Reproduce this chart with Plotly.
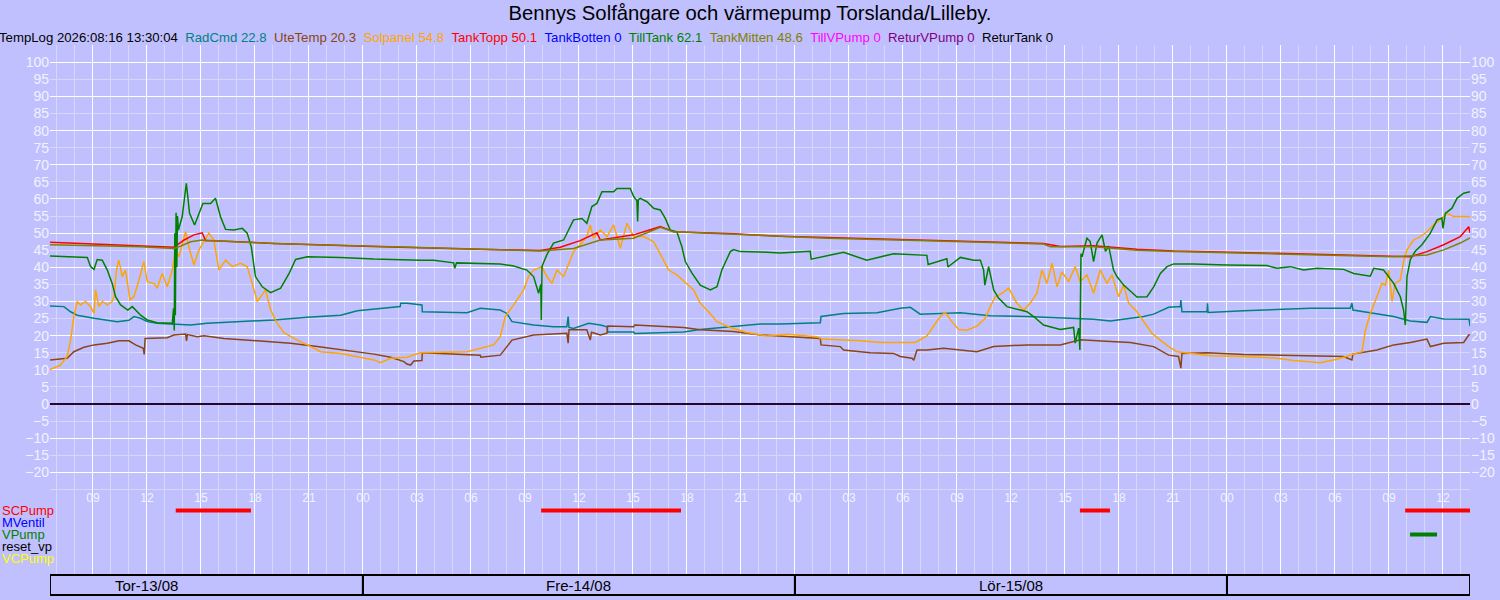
import pandas as pd
import plotly.graph_objects as go

title_text = "Bennys Solfångare och värmepump Torslanda/Lilleby."
log_stamp = "TempLog 2026:08:16 13:30:04"
day0 = pd.Timestamp("2026-08-13 00:00:00")
t_start = pd.Timestamp("2026-08-13 06:37:00")
t_end = pd.Timestamp("2026-08-16 13:30:04")

# legend row: name, colour, last value
series_names = ["RadCmd", "UteTemp", "Solpanel", "TankTopp", "TankBotten",
                "TillTank", "TankMitten", "TillVPump", "ReturVPump", "ReturTank"]
series_colors = ["#008080", "#8b4513", "#ffa500", "#ff0000", "#0000ff",
                 "#008000", "#808000", "#ff00ff", "#800080", "#000000"]
latest_values = [22.8, 20.3, 54.8, 50.1, 0, 62.1, 48.6, 0, 0, 0]

radcmd_h = [6.62, 7.39, 7.76, 8.13, 9.06, 10.35, 11.0, 11.28, 11.65, 12.02,
            12.57, 13.5, 14.43, 15.35, 17.2, 19.06, 20.91, 22.76, 23.69, 24.61,
            25.54, 26.07, 26.1, 26.46, 27.28, 27.3, 29.78, 30.52, 31.63, 32.0,
            32.28, 33.48, 34.59, 35.33, 35.4, 35.45, 35.7, 36.54, 37.19, 37.56,
            37.6, 39.04, 39.1, 41.81, 42.74, 44.59, 46.07, 47.19, 49.41, 49.45,
            50.7, 52.56, 53.85, 54.41, 54.96, 57.19, 58.85, 60.89, 64.59, 65.52,
            67.37, 67.93, 68.76, 69.41, 69.44, 69.5, 70.89, 70.92, 70.95, 72.93,
            74.78, 76.63, 78.85, 78.94, 79.0, 80.33, 81.26, 82.19, 83.11, 83.3,
            84.04, 85.33, 85.45, 85.5]
radcmd_v = [28.7, 28.5, 27.0, 26.0, 25.1, 24.1, 24.5, 25.6, 25.1, 24.1,
            23.6, 23.4, 23.1, 23.6, 24.1, 24.6, 25.4, 26.0, 27.3, 27.7,
            28.3, 28.5, 29.5, 29.5, 29.0, 27.0, 26.7, 28.0, 27.5, 26.5,
            24.1, 23.1, 22.6, 22.6, 25.6, 22.4, 22.1, 23.6, 23.1, 22.6,
            21.1, 21.1, 20.6, 21.1, 21.8, 22.6, 23.4, 23.4, 23.8, 25.6,
            26.5, 26.7, 28.0, 28.3, 26.3, 26.7, 25.8, 25.6, 24.8, 24.3,
            25.6, 26.3, 28.3, 28.5, 30.4, 27.0, 27.0, 29.5, 26.8, 27.3,
            27.7, 28.0, 28.0, 29.5, 27.5, 26.3, 25.6, 24.3, 23.9, 25.6,
            24.9, 24.8, 24.8, 22.8]

utetemp_h = [6.62, 7.57, 7.94, 8.5, 9.06, 9.8, 10.44, 11.0, 11.37, 11.8,
             11.85, 11.9, 13.13, 13.5, 14.15, 14.2, 14.25, 14.8, 15.17, 16.28,
             18.13, 19.98, 21.46, 23.69, 24.61, 25.54, 26.28, 26.44, 26.65, 26.83,
             27.28, 27.3, 30.52, 30.55, 31.63, 32.28, 33.48, 35.33, 35.4, 35.45,
             36.44, 36.63, 36.7, 37.19, 37.56, 37.6, 39.04, 39.1, 41.81, 42.74,
             44.59, 46.07, 49.41, 49.45, 50.52, 50.7, 52.18, 53.48, 53.85, 54.5,
             54.6, 54.78, 55.33, 56.26, 57.19, 58.11, 59.04, 60.89, 62.74, 63.85,
             65.52, 66.63, 67.93, 68.76, 69.31, 69.44, 69.5, 70.89, 72.93, 74.78,
             76.63, 78.48, 78.94, 79.0, 80.33, 81.26, 82.19, 83.11, 83.3, 84.04,
             85.15, 85.43, 85.5]
utetemp_v = [12.9, 13.4, 15.3, 16.6, 17.3, 17.8, 18.5, 18.5, 17.3, 16.3,
             14.5, 19.2, 19.4, 20.2, 20.5, 18.5, 20.3, 19.7, 20.0, 19.2,
             18.5, 17.8, 16.8, 15.3, 14.6, 13.7, 12.4, 11.7, 11.4, 12.6,
             12.7, 15.0, 14.3, 13.7, 14.3, 18.7, 20.2, 20.7, 17.8, 21.7,
             21.7, 18.7, 21.0, 20.2, 20.7, 22.8, 22.6, 23.1, 22.4, 21.7,
             21.2, 20.2, 19.2, 17.3, 16.8, 15.8, 15.0, 14.8, 13.9, 13.4,
             12.8, 15.8, 15.8, 16.3, 15.8, 15.3, 16.8, 17.3, 17.3, 18.8,
             18.3, 18.0, 16.8, 14.3, 13.9, 10.5, 14.8, 15.0, 14.5, 14.3,
             14.1, 13.9, 12.9, 14.6, 15.8, 17.3, 18.0, 19.0, 16.8, 17.8,
             18.0, 20.2, 20.3]

solpanel_h = [6.62, 7.2, 7.57, 7.76, 7.94, 8.13, 8.31, 8.59, 8.87, 9.06,
              9.15, 9.33, 9.52, 9.8, 10.07, 10.17, 10.31, 10.44, 10.63, 10.81,
              11.06, 11.28, 11.56, 11.83, 12.02, 12.39, 12.57, 12.85, 13.13, 13.41,
              13.59, 13.78, 14.15, 14.33, 14.61, 14.89, 15.17, 15.44, 15.72, 16.0,
              16.37, 16.74, 17.2, 17.57, 17.85, 18.13, 18.41, 18.59, 18.87, 19.24,
              19.61, 20.17, 20.91, 21.65, 22.76, 23.69, 24.61, 24.98, 25.54, 26.46,
              27.19, 29.78, 30.52, 31.26, 31.63, 31.91, 32.37, 32.93, 33.2, 33.48,
              33.94, 34.22, 34.5, 34.78, 35.15, 35.43, 35.7, 36.07, 36.44, 36.63,
              36.81, 37.19, 37.56, 37.93, 38.3, 38.67, 39.04, 39.59, 40.15, 40.7,
              40.98, 41.44, 42.0, 42.37, 42.74, 43.11, 43.67, 44.41, 45.33, 46.44,
              47.56, 49.22, 49.5, 51.63, 52.74, 54.69, 55.33, 55.7, 56.07, 56.35,
              56.72, 57.09, 57.56, 58.11, 58.57, 58.85, 59.13, 59.5, 59.87, 60.33,
              60.7, 61.07, 61.44, 61.72, 62.0, 62.28, 62.56, 62.83, 63.2, 63.57,
              63.85, 64.22, 64.59, 64.96, 65.33, 65.61, 65.98, 66.26, 66.54, 67.0,
              67.37, 67.83, 68.3, 68.76, 69.22, 70.15, 71.07, 72.93, 74.78, 75.7,
              77.19, 78.11, 78.85, 79.5, 79.69, 79.96, 80.33, 80.61, 80.8, 80.98,
              81.17, 81.35, 81.63, 81.81, 82.0, 82.37, 82.74, 83.11, 83.48, 83.85,
              84.22, 84.59, 85.15, 85.5]
solpanel_v = [10.1, 11.4, 13.9, 18.7, 25.6, 30.0, 29.0, 30.0, 28.5, 26.5,
              33.4, 28.5, 30.0, 29.0, 30.0, 31.4, 39.2, 42.1, 37.3, 39.2,
              30.5, 31.4, 36.3, 41.7, 35.8, 35.3, 33.9, 38.2, 34.3, 39.2,
              45.1, 43.1, 50.4, 46.0, 40.7, 45.1, 47.5, 50.0, 48.0, 39.2,
              42.1, 40.2, 41.2, 40.2, 35.3, 30.0, 32.0, 33.4, 27.5, 23.6,
              20.9, 19.2, 17.3, 15.3, 14.8, 13.9, 12.9, 12.1, 13.4, 13.7,
              15.0, 15.3, 16.3, 17.3, 19.7, 25.6, 29.0, 33.4, 37.3, 39.2,
              40.2, 37.3, 35.3, 39.2, 37.3, 41.2, 44.6, 46.6, 49.0, 52.4,
              48.5, 50.9, 49.0, 52.4, 45.6, 52.9, 49.0, 49.0, 47.5, 42.1,
              39.2, 37.8, 35.3, 33.4, 29.5, 27.5, 24.1, 22.4, 20.9, 19.9,
              20.4, 19.7, 19.0, 18.5, 18.0, 18.0, 19.9, 22.6, 25.6, 26.8,
              24.1, 21.8, 21.6, 22.8, 25.1, 28.5, 31.4, 32.4, 33.9, 29.5,
              27.5, 29.5, 32.4, 39.2, 35.3, 41.2, 34.3, 38.7, 35.8, 40.2,
              35.8, 37.8, 32.4, 39.2, 35.3, 37.8, 31.4, 34.8, 29.5, 27.0,
              24.1, 20.7, 18.7, 16.8, 15.3, 14.8, 14.1, 13.9, 13.4, 12.7,
              12.1, 13.1, 14.3, 15.3, 21.6, 26.5, 31.4, 35.3, 34.8, 39.2,
              30.0, 35.3, 36.3, 41.7, 45.1, 48.0, 49.0, 50.4, 52.4, 53.9,
              55.8, 54.9, 54.9, 54.8]

tanktopp_h = [6.62, 11.65, 13.5, 14.07, 14.61, 15.07, 15.26, 15.72, 19.06, 24.61,
              27.2, 33.85, 34.96, 36.07, 37.0, 37.19, 39.04, 40.52, 41.26, 44.59,
              47.19, 49.78, 55.33, 59.04, 61.81, 62.74, 64.59, 67.0, 69.04, 74.78,
              81.26, 82.19, 83.11, 84.04, 84.96, 85.43, 85.5]
tanktopp_v = [47.3, 46.2, 45.9, 48.0, 49.5, 50.1, 47.8, 47.8, 47.0, 46.1,
              45.7, 44.9, 45.9, 47.8, 50.1, 48.0, 49.5, 51.9, 50.4, 49.8,
              49.1, 48.7, 48.0, 47.5, 47.0, 46.1, 46.3, 45.3, 44.8, 44.1,
              43.4, 43.1, 44.6, 46.6, 49.0, 51.9, 50.1]

tilltank_h = [6.62, 8.69, 8.87, 9.06, 9.24, 9.52, 9.8, 10.07, 10.26, 10.54,
              10.94, 11.19, 11.65, 12.02, 12.57, 13.41, 13.48, 13.52, 13.55, 13.58,
              13.62, 13.66, 13.7, 13.75, 13.96, 14.19, 14.37, 14.65, 15.11, 15.54,
              15.81, 16.09, 16.37, 16.83, 17.3, 17.57, 17.8, 18.03, 18.41, 18.87,
              19.43, 19.9, 20.26, 20.91, 22.76, 24.61, 27.2, 27.93, 29.04, 29.1,
              29.2, 29.78, 31.63, 32.37, 33.11, 33.48, 33.76, 33.88, 33.91, 33.95,
              34.22, 34.59, 35.15, 35.7, 36.17, 36.44, 36.72, 37.0, 37.28, 37.93,
              38.11, 38.85, 39.04, 39.22, 39.26, 39.3, 39.41, 39.78, 40.15, 40.52,
              40.8, 41.07, 41.44, 41.72, 41.91, 42.28, 42.74, 43.3, 43.67, 43.94,
              44.41, 44.59, 44.96, 46.07, 47.19, 48.85, 48.9, 50.7, 51.99, 53.48,
              55.33, 55.4, 56.44, 56.5, 57.19, 57.93, 58.3, 58.48, 58.55, 58.76,
              59.04, 59.31, 59.78, 60.52, 60.89, 61.26, 61.81, 62.74, 63.48, 63.57,
              63.76, 63.83, 63.89, 63.95, 64.22, 64.4, 64.59, 64.78, 65.06, 65.25,
              65.43, 65.7, 65.89, 66.26, 66.63, 67.0, 67.56, 67.93, 68.3, 68.67,
              69.04, 70.15, 72.0, 74.22, 74.78, 75.52, 76.26, 77.0, 78.48, 79.04,
              79.96, 80.15, 80.7, 80.98, 81.26, 81.63, 81.81, 81.91, 82.0, 82.19,
              82.46, 82.83, 83.3, 83.67, 83.94, 84.0, 84.13, 84.5, 84.78, 85.15,
              85.5]
tilltank_v = [43.3, 42.9, 40.2, 39.4, 42.3, 42.1, 39.2, 35.3, 31.4, 29.0,
              27.5, 28.5, 26.0, 24.6, 23.8, 23.6, 28.0, 21.5, 50.0, 26.0,
              56.0, 40.0, 55.0, 50.9, 54.8, 64.6, 55.8, 52.4, 58.7, 58.7,
              60.2, 54.8, 51.1, 50.9, 51.4, 50.0, 46.0, 37.3, 34.3, 32.6,
              33.9, 38.2, 42.3, 43.1, 42.9, 42.4, 42.1, 42.1, 41.3, 39.7,
              41.3, 41.2, 41.0, 40.4, 39.2, 37.3, 32.4, 35.0, 24.6, 40.3,
              43.7, 47.1, 48.0, 53.9, 54.3, 52.9, 57.8, 58.7, 62.1, 62.1,
              63.1, 63.1, 60.7, 59.5, 53.4, 59.8, 60.2, 59.2, 57.3, 56.8,
              54.3, 50.9, 50.4, 46.0, 41.7, 38.3, 34.8, 33.4, 34.3, 39.2,
              44.6, 45.2, 44.6, 44.5, 44.2, 44.7, 42.4, 44.4, 42.1, 44.0,
              43.5, 40.8, 42.5, 40.1, 42.9, 42.1, 42.1, 39.2, 34.8, 40.2,
              33.4, 31.0, 28.5, 27.5, 27.0, 25.6, 23.1, 21.8, 22.4, 17.8,
              22.2, 15.8, 44.0, 43.1, 48.5, 47.6, 41.7, 47.1, 49.5, 44.7,
              46.2, 39.2, 37.3, 34.8, 32.9, 31.3, 31.4, 34.3, 38.2, 40.2,
              41.0, 41.0, 40.7, 40.5, 39.7, 40.2, 39.2, 39.7, 39.4, 38.2,
              37.4, 39.7, 39.2, 37.3, 35.3, 31.4, 27.5, 23.1, 37.3, 42.3,
              44.7, 46.6, 50.0, 53.9, 54.4, 51.4, 55.8, 57.3, 60.2, 61.7,
              62.1]

tankmitten_h = [6.62, 11.65, 13.5, 13.87, 14.43, 15.07, 16.28, 19.06, 24.61, 27.2,
                33.85, 35.7, 37.19, 39.04, 40.52, 41.26, 44.59, 47.19, 49.78, 55.33,
                59.04, 61.81, 62.19, 64.59, 67.0, 69.04, 74.78, 81.26, 83.11, 84.04,
                84.96, 85.5]
tankmitten_v = [46.6, 46.0, 45.5, 46.2, 47.5, 48.0, 47.6, 47.0, 46.2, 45.8,
                44.8, 45.5, 48.0, 48.5, 51.7, 50.4, 49.7, 49.1, 48.5, 47.8,
                47.2, 46.8, 46.0, 46.0, 45.0, 44.6, 43.9, 43.1, 43.6, 45.1,
                47.1, 48.6]

# pump rows and their on-periods (hours since 13/08 00:00)
pump_names = ["SCPump", "MVentil", "VPump", "reset_vp", "VCPump"]
pump_colors = ["#ff0000", "#0000ff", "#008000", "#000000", "#ffff00"]
scpump_start = [13.6, 33.9, 63.83, 81.9]
scpump_stop = [17.78, 41.67, 65.5, 85.5]
vpump_start = [82.17]
vpump_stop = [83.67]

day_edges = [t_start, pd.Timestamp("2026-08-14"), pd.Timestamp("2026-08-15"),
             pd.Timestamp("2026-08-16"), t_end]
day_labels = ["Tor-13/08", "Fre-14/08", "Lör-15/08", ""]

bg = "#c0c0ff"
minor_grid = "#d8d8f6"
tick_col = "#f2f2ff"
font_fam = "Liberation Sans, Arial, sans-serif"


def to_time(hours):
    return [day0 + pd.Timedelta(hours=h) for h in hours]


def on_segments(starts, stops):
    xs = []
    for a, b in zip(starts, stops):
        xs += [day0 + pd.Timedelta(hours=a), min(day0 + pd.Timedelta(hours=b), t_end), None]
    return xs


curves = {
    "RadCmd": (radcmd_h, radcmd_v),
    "UteTemp": (utetemp_h, utetemp_v),
    "Solpanel": (solpanel_h, solpanel_v),
    "TankTopp": (tanktopp_h, tanktopp_v),
    "TillTank": (tilltank_h, tilltank_v),
    "TankMitten": (tankmitten_h, tankmitten_v),
}

fig = go.Figure()

for name, col, last in zip(series_names, series_colors, latest_values):
    if name in curves:
        hh, vv = curves[name]
        fig.add_trace(go.Scatter(x=to_time(hh), y=vv, mode="lines", name=name,
                                 line=dict(color=col, width=1.5), xaxis="x", yaxis="y"))
    else:
        # flat series sitting at their last value
        w = 1.5 if name == "ReturTank" else 1
        fig.add_trace(go.Scatter(x=[t_start, t_end], y=[last, last], mode="lines", name=name,
                                 line=dict(color=col, width=w), xaxis="x", yaxis="y2"))

pump_on = {"SCPump": (scpump_start, scpump_stop), "VPump": (vpump_start, vpump_stop)}
for i, (pname, pcol) in enumerate(zip(pump_names, pump_colors)):
    if pname not in pump_on:
        continue
    xs = on_segments(*pump_on[pname])
    ys = [i if x is not None else None for x in xs]
    fig.add_trace(go.Scatter(x=xs, y=ys, mode="lines", line=dict(color=pcol, width=4),
                             xaxis="x", yaxis="y3", connectgaps=False))

# invisible trace so the grid axis gets drawn
fig.add_trace(go.Scatter(x=[t_start, t_end], y=[0, 0], mode="lines", line=dict(width=0),
                         hoverinfo="skip", xaxis="x", yaxis="y4"))

W, H = 1500, 600
plot_l, plot_r, plot_t, plot_b = 50, 1470, 45, 575
ml, mr, mt, mb = plot_l, W - plot_r, plot_t, H - plot_b
ph = plot_b - plot_t
pw = plot_r - plot_l


def py(screen_y):
    return (plot_b - screen_y) / ph


def px(screen_x):
    return (screen_x - plot_l) / pw


y_range = [-50.04, 105.06]
label_vals = list(range(-20, 101, 5))

annotations = []
legend_parts = [f'<span style="color:#000000">{log_stamp}</span>']
for name, col, last in zip(series_names, series_colors, latest_values):
    legend_parts.append(f'<span style="color:{col}">{name} {last:g}</span>')
annotations.append(dict(text="&nbsp;&nbsp;".join(legend_parts), xref="paper", yref="paper",
                        x=px(-3), y=py(38), xanchor="left", yanchor="middle",
                        showarrow=False, font=dict(family=font_fam, size=13.2)))

for i, (pname, pcol) in enumerate(zip(pump_names, pump_colors)):
    annotations.append(dict(text=pname, xref="paper", yref="y3", x=px(0), y=i,
                            xanchor="left", yanchor="middle", showarrow=False,
                            font=dict(family=font_fam, size=13, color=pcol)))

shapes = []
for k, lab in enumerate(day_labels):
    shapes.append(dict(type="rect", xref="x", yref="paper", x0=day_edges[k], x1=day_edges[k + 1],
                       y0=py(595), y1=0, line=dict(color="#000000", width=2), layer="above"))
    if lab:
        noon = day_edges[k].normalize() + pd.Timedelta(hours=12)
        annotations.append(dict(text=lab, xref="x", yref="paper", x=noon, y=py(585),
                                xanchor="center", yanchor="middle", showarrow=False,
                                font=dict(family=font_fam, size=15, color="#000000")))

row0_s, row_step = 510.5, 12.0
fig.update_layout(
    width=W, height=H,
    margin=dict(l=ml, r=mr, t=mt, b=mb, autoexpand=False),
    paper_bgcolor=bg, plot_bgcolor=bg,
    showlegend=False,
    title=dict(text=title_text, x=0.5, xref="container", xanchor="center",
               y=1 - 13 / H, yref="container", yanchor="middle", automargin=False,
               font=dict(family=font_fam, size=20.3, color="#000000")),
    xaxis=dict(type="date", range=[t_start, t_end], anchor="free", position=py(489),
               tick0=day0, dtick=3 * 3600 * 1000, tickformat="%H", ticks="", automargin=False,
               showgrid=True, gridcolor="#ffffff", gridwidth=1, showline=False, zeroline=False,
               minor=dict(dtick=3600 * 1000, showgrid=True, gridcolor=minor_grid, gridwidth=1),
               tickfont=dict(family=font_fam, size=12, color=tick_col)),
    yaxis=dict(range=y_range, tickmode="array", tickvals=label_vals, showgrid=False,
               zeroline=False, ticks="", automargin=False,
               tickfont=dict(family=font_fam, size=14, color=tick_col)),
    yaxis2=dict(range=y_range, overlaying="y", side="right", tickmode="array",
                tickvals=label_vals, showgrid=False, zeroline=False, ticks="", automargin=False,
                tickfont=dict(family=font_fam, size=14, color=tick_col)),
    yaxis3=dict(range=[(plot_b - row0_s) / row_step, (plot_t - row0_s) / row_step],
                overlaying="y", visible=False, showgrid=False, zeroline=False, automargin=False),
    yaxis4=dict(range=y_range, overlaying="y", showticklabels=False, ticks="", zeroline=False,
                tickmode="array", tickvals=list(range(-20, 101, 10)), automargin=False,
                showgrid=True, gridcolor="#ffffff", gridwidth=1,
                minor=dict(tickmode="array", tickvals=list(range(-25, 100, 10)),
                           showgrid=True, gridcolor=minor_grid, gridwidth=1)),
    annotations=annotations,
    shapes=shapes,
)

# the default page body has an 8px margin; drop it so the figure fills the window
fig.write_html("out.html", config={"displayModeBar": False},
               post_script="document.body.style.margin='0px';")
